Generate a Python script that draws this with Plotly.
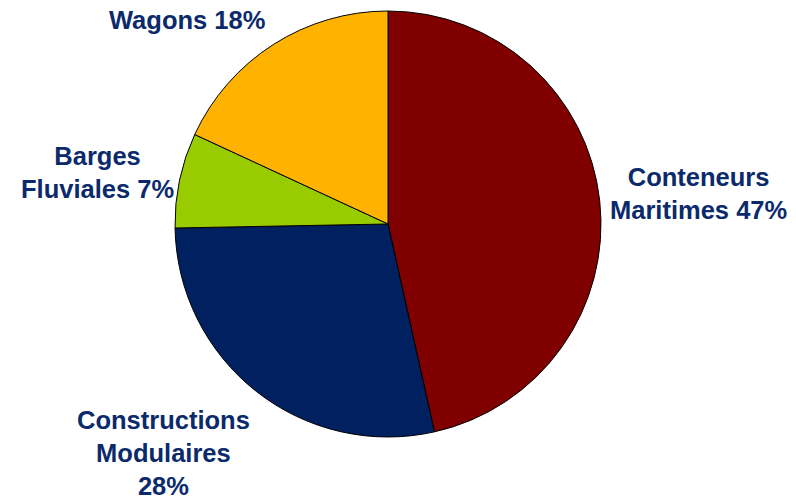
import plotly.graph_objects as go

categories = ["Conteneurs Maritimes", "Constructions Modulaires", "Barges Fluviales", "Wagons"]
values = [46.5, 28.2, 7.2, 18.1]
colors = ["#800000", "#002060", "#99CC00", "#FFB300"]
label_texts = ["Conteneurs<br>Maritimes 47%", "Constructions<br>Modulaires<br>28%",
               "Barges<br>Fluviales 7%", "Wagons 18%"]
label_pos = [(698, 194), (163, 453), (97, 172), (187, 20)]  # pixel centers

W, H = 796, 499
cx, cy, r = 388, 224, 213

fig = go.Figure(go.Pie(
    labels=categories, values=values, sort=False, direction="clockwise", rotation=0,
    marker=dict(colors=colors, line=dict(color="black", width=1)),
    textinfo="none", hoverinfo="label+percent", showlegend=False,
    domain=dict(x=[(cx - r) / W, (cx + r) / W], y=[1 - (cy + r) / H, 1 - (cy - r) / H]),
))

for txt, (px, py) in zip(label_texts, label_pos):
    fig.add_annotation(text="<b>" + txt + "</b>", x=px / W, y=1 - py / H, xref="paper", yref="paper",
                       xanchor="center", yanchor="middle", showarrow=False, align="center",
                       font=dict(family="Liberation Sans, Arial", size=25.5, color="#0B2A6B"))

fig.update_layout(width=W, height=H, margin=dict(l=0, r=0, t=0, b=0),
                  paper_bgcolor="white", plot_bgcolor="white")
fig.write_html("out.html")
